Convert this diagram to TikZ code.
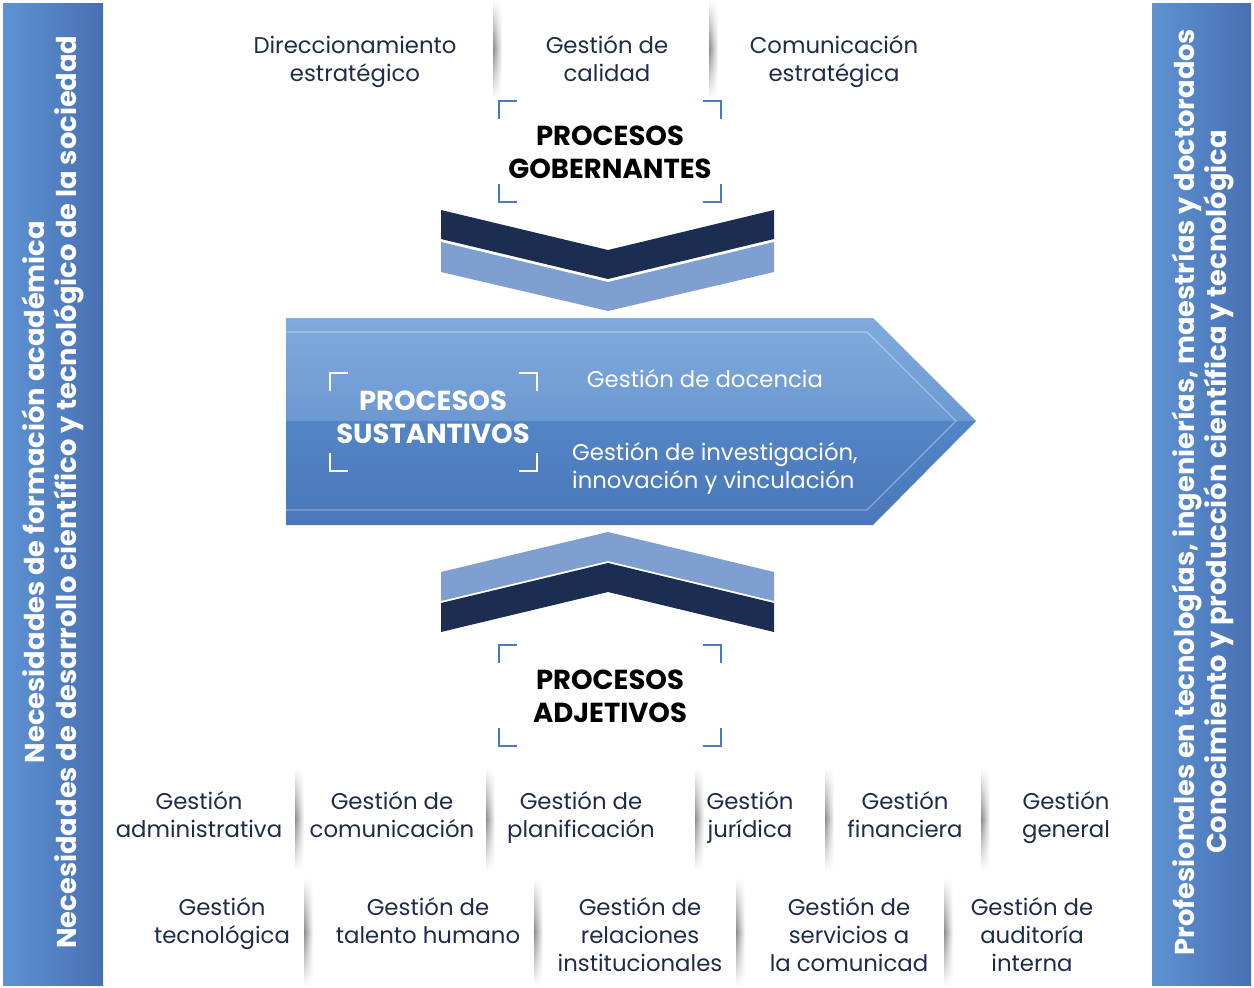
\documentclass[tikz,border=0pt]{standalone}
\usepackage{fontspec}
\setmainfont{Poppins}
\usetikzlibrary{fadings}
\definecolor{navy}{HTML}{1E2B4A}
\definecolor{brk}{HTML}{4A7BBF}
\definecolor{chevdark}{HTML}{1B2E52}
\definecolor{chevlight}{HTML}{7F9FD0}
\definecolor{arrtopA}{HTML}{80ABDC}
\definecolor{arrtopB}{HTML}{6C99D1}
\definecolor{arrbotA}{HTML}{5385C6}
\definecolor{arrbotB}{HTML}{4A77B9}
\definecolor{barL}{HTML}{5E93D3}
\definecolor{barR}{HTML}{4770B3}
\tikzfading[name=vfade, top color=transparent!100, bottom color=transparent!100, middle color=transparent!0]
\tikzset{
  item/.style={align=center, text=navy, font=\fontsize{22.8}{28}\selectfont, inner sep=0pt, anchor=base},
  head/.style={align=center, text=black, font=\fontsize{27.5}{33}\selectfont\bfseries, inner sep=0pt, anchor=base},
  headw/.style={head, text=white},
  sidetext/.style={align=center, text=white, rotate=90, font=\bfseries\fontsize{27.3}{32}\selectfont, inner sep=0pt},
  brkline/.style={draw=brk, line width=2.6pt},
  brkwline/.style={draw=white, line width=2.6pt},
}
\newcommand\sepline[3]{\shade[left color=black!45, right color=white, path fading=vfade] (#1,#2) rectangle (#1+9,#3);}
\newcommand\brackets[5]{%
  \draw[#5] (#1,#2+18) -- (#1,#2) -- (#1+18,#2);
  \draw[#5] (#3-18,#2) -- (#3,#2) -- (#3,#2+18);
  \draw[#5] (#1,#4-18) -- (#1,#4) -- (#1+18,#4);
  \draw[#5] (#3-18,#4) -- (#3,#4) -- (#3,#4-18);}
\begin{document}
\begin{tikzpicture}[x=1pt,y=-1pt]
\useasboundingbox (0,0) rectangle (1254,988);
\fill[white] (0,0) rectangle (1254,988);
% side bars
\shade[left color=barL, right color=barR] (3,3) rectangle (103,985);
\shade[left color=barL, right color=barR] (1152,3) rectangle (1251,985);
\node[sidetext] (lefttext) at (53,492) {Necesidades de formación académica\\Necesidades de desarrollo científico y tecnológico de la sociedad};
\node[sidetext] (righttext) at (1203,492) {Profesionales en tecnologías, ingenierías, maestrías y doctorados\\Conocimiento y producción científica y tecnológica};
% top items
\sepline{493}{0}{98}
\sepline{709}{0}{98}
\node[item] (g1) at (355,81) {Direccionamiento\\estratégico};
\node[item] (g2) at (607,81) {Gestión de\\calidad};
\node[item] (g3) at (834,81) {Comunicación\\estratégica};
% top bracket heading
\brackets{499}{101}{721}{202}{brkline}
\node[head] (gob) at (610,178) {PROCESOS\\GOBERNANTES};
% top chevron
\fill[chevdark] (441,210) -- (608,250) -- (774,210) -- (774,239) -- (608,279) -- (441,239) -- cycle;
\fill[chevlight] (441,242) -- (608,282) -- (774,242) -- (774,272) -- (608,311) -- (441,272) -- cycle;
% central arrow
\shade[top color=arrtopA, bottom color=arrtopB] (286,318) -- (873,318) -- (976,421) -- (286,421) -- cycle;
\shade[top color=arrbotA, bottom color=arrbotB] (286,421) -- (976,421) -- (873,525) -- (286,525) -- cycle;
\draw[white, opacity=0.35, line width=1.2pt] (286,332) -- (867,332) -- (956,421) -- (867,510) -- (286,510);
\brackets{330}{373}{537}{471}{brkwline}
\node[headw] (sus) at (433,443) {PROCESOS\\SUSTANTIVOS};
\node[item, text=white] (doc) at (705,387) {Gestión de docencia};
\node[item, text=white, align=left, anchor=base west] (inv) at (572,488) {Gestión de investigación,\\innovación y vinculación};
% bottom chevron
\fill[chevlight] (441,572) -- (608,532) -- (774,572) -- (774,601) -- (608,561) -- (441,601) -- cycle;
\fill[chevdark] (441,603) -- (608,563) -- (774,603) -- (774,632) -- (608,592) -- (441,632) -- cycle;
% bottom bracket heading
\brackets{499}{645}{721}{746}{brkline}
\node[head] (adj) at (610,722) {PROCESOS\\ADJETIVOS};
% bottom row 1
\sepline{295}{768}{870}
\sepline{486}{768}{870}
\sepline{695}{768}{870}
\sepline{825}{768}{870}
\sepline{981}{768}{870}
\node[item] (a1) at (199,837) {Gestión\\administrativa};
\node[item] (a2) at (392,837) {Gestión de\\comunicación};
\node[item] (a3) at (581,837) {Gestión de\\planificación};
\node[item] (a4) at (750,837) {Gestión\\jurídica};
\node[item] (a5) at (905,837) {Gestión\\financiera};
\node[item] (a6) at (1066,837) {Gestión\\general};
% bottom row 2
\sepline{304}{878}{986}
\sepline{534}{878}{986}
\sepline{736}{878}{986}
\sepline{944}{878}{986}
\node[item] (b1) at (222,943) {Gestión\\tecnológica};
\node[item] (b2) at (428,943) {Gestión de\\talento humano};
\node[item] (b3) at (640,971) {Gestión de\\relaciones\\institucionales};
\node[item] (b4) at (849,971) {Gestión de\\servicios a\\la comunicad};
\node[item] (b5) at (1032,971) {Gestión de\\auditoría\\interna};
\end{tikzpicture}
\end{document}
